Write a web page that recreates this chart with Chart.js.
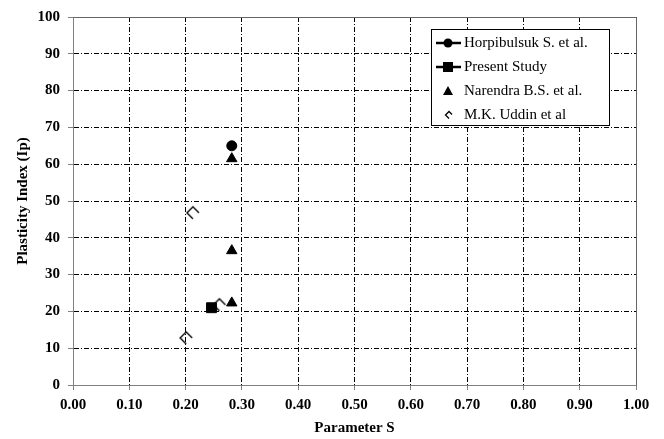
<!DOCTYPE html>
<html>
<head>
<meta charset="utf-8">
<script src="https://cdn.jsdelivr.net/npm/chart.js@4"></script>
<style>
  html, body { margin: 0; padding: 0; background: #fff; }
  #wrap { width: 664px; height: 439px; position: relative; }
</style>
</head>
<body>
<div id="wrap"><canvas id="grafico"></canvas></div>
<script>
// data
const seriesNames = ['Horpibulsuk S. et al.', 'Present Study', 'Narendra B.S. et al.', 'M.K. Uddin et al'];
const horpibulsukS = [0.282];
const horpibulsukIp = [65];
const presentS = [0.246];
const presentIp = [21];
const narendraS = [0.282, 0.282, 0.282];
const narendraIp = [61.5, 36.5, 22.3];
const uddinS = [0.213, 0.26, 0.201];
const uddinIp = [46.8, 21.8, 12.8];
const xTickLabels = ['0.00', '0.10', '0.20', '0.30', '0.40', '0.50', '0.60', '0.70', '0.80', '0.90', '1.00'];
const yTickLabels = ['0', '10', '20', '30', '40', '50', '60', '70', '80', '90', '100'];

const pontos = (xs, ys) => xs.map((x, i) => ({ x: x, y: ys[i] }));

// open diamond marker (Excel style, bottom-right edge hidden)
function diamante(tam) {
    const c = document.createElement('canvas');
    c.width = tam + 4;
    c.height = tam + 4;
    const g = c.getContext('2d');
    const m = c.width / 2, h = tam / 2;
    g.strokeStyle = '#000';
    g.lineWidth = 1.4;
    g.lineJoin = 'miter';
    g.beginPath();
    g.moveTo(m, m + h);
    g.lineTo(m - h, m);
    g.lineTo(m, m - h);
    g.lineTo(m + h, m);
    g.stroke();
    return c;
}
const marcaUddin = diamante(12);

const serif = "'Liberation Serif', 'Times New Roman', serif";

const bordaPlot = {
    id: 'bordaPlot',
    afterDraw(chart) {
        const { ctx, chartArea: a } = chart;
        ctx.save();
        ctx.strokeStyle = '#666';
        ctx.lineWidth = 1;
        ctx.beginPath();
        ctx.moveTo(Math.round(a.left) + 0.5, Math.round(a.top) + 0.5);
        ctx.lineTo(Math.round(a.right) + 0.5, Math.round(a.top) + 0.5);
        ctx.lineTo(Math.round(a.right) + 0.5, Math.round(a.bottom) + 0.5);
        ctx.stroke();
        ctx.restore();
    }
};

// legend box drawn inside the plot, like the original
const legendaDentro = {
    id: 'legendaDentro',
    afterDraw(chart) {
        const ctx = chart.ctx;
        const bx = 431, by = 29, bw = 178, bh = 96;
        ctx.save();
        ctx.fillStyle = '#fff';
        ctx.fillRect(bx, by, bw, bh);
        ctx.strokeStyle = '#000';
        ctx.lineWidth = 1;
        ctx.strokeRect(bx + 0.5, by + 0.5, bw, bh);
        ctx.font = '15px ' + serif;
        ctx.textBaseline = 'middle';
        ctx.fillStyle = '#000';
        chart.data.datasets.forEach((ds, i) => {
            const y = by + 14 + i * 24;
            const mx = 448;
            if (i < 2) {
                ctx.lineWidth = 2.5;
                ctx.beginPath();
                ctx.moveTo(436, y);
                ctx.lineTo(461, y);
                ctx.stroke();
            }
            ctx.lineWidth = 1.3;
            ctx.beginPath();
            if (i === 0) {
                ctx.arc(mx, y, 4.5, 0, Math.PI * 2);
                ctx.fill();
            } else if (i === 1) {
                ctx.fillRect(mx - 5, y - 5, 10, 10);
            } else if (i === 2) {
                ctx.moveTo(mx, y - 5);
                ctx.lineTo(mx + 5, y + 4);
                ctx.lineTo(mx - 5, y + 4);
                ctx.closePath();
                ctx.fill();
            } else {
                ctx.moveTo(mx + 1, y + 3.5);
                ctx.lineTo(mx - 2.5, y);
                ctx.lineTo(mx + 1, y - 3.5);
                ctx.lineTo(mx + 4, y - 0.5);
                ctx.stroke();
            }
            ctx.fillText(ds.label, 464, y);
        });
        ctx.restore();
    }
};

const divGrafico = document.getElementById('grafico').getContext('2d');

const grafico = new Chart(divGrafico, {
    type: 'scatter',
    data: {
        datasets: [
            {
                label: seriesNames[0],
                data: pontos(horpibulsukS, horpibulsukIp),
                pointStyle: 'circle',
                pointRadius: 5,
                backgroundColor: '#000',
                borderColor: '#000',
            },
            {
                label: seriesNames[1],
                data: pontos(presentS, presentIp),
                pointStyle: 'rect',
                pointRadius: 7,
                backgroundColor: '#000',
                borderColor: '#000',
            },
            {
                label: seriesNames[2],
                data: pontos(narendraS, narendraIp),
                pointStyle: 'triangle',
                pointRadius: 6,
                backgroundColor: '#000',
                borderColor: '#000',
            },
            {
                label: seriesNames[3],
                data: pontos(uddinS, uddinIp),
                pointStyle: marcaUddin,
                pointRadius: 6,
            }
        ]
    },
    options: {
        responsive: true,
        maintainAspectRatio: false,
        animation: false,
        layout: {
            padding: { top: 16, right: 28, left: 0, bottom: 0 }
        },
        plugins: {
            legend: { display: false },
            tooltip: { enabled: false }
        },
        scales: {
            x: {
                type: 'linear',
                min: 0,
                max: 1,
                afterFit: (s) => { s.height = 54; },
                afterBuildTicks: (s) => {
                    s.ticks = xTickLabels.map((t) => ({ value: parseFloat(t) }));
                },
                ticks: {
                    callback: (v, i) => xTickLabels[i],
                    color: '#000',
                    padding: 6,
                    maxRotation: 0,
                    font: { family: serif, size: 15, weight: 'bold' }
                },
                grid: {
                    color: '#000',
                    lineWidth: 1,
                    tickColor: '#808080',
                    tickLength: 5,
                    tickBorderDash: []
                },
                border: {
                    color: '#808080',
                    width: 1,
                    dash: [5, 2, 1, 2]
                },
                title: {
                    display: true,
                    text: 'Parameter S',
                    color: '#000',
                    padding: { top: 0, bottom: 2 },
                    font: { family: serif, size: 15, weight: 'bold' }
                }
            },
            y: {
                type: 'linear',
                min: 0,
                max: 100,
                afterFit: (s) => { s.width = 73; },
                ticks: {
                    stepSize: 10,
                    callback: (v) => yTickLabels[Math.round(v / 10)],
                    color: '#000',
                    padding: 8,
                    font: { family: serif, size: 15, weight: 'bold' }
                },
                grid: {
                    color: '#000',
                    lineWidth: 1,
                    tickColor: '#808080',
                    tickLength: 5,
                    tickBorderDash: []
                },
                border: {
                    color: '#808080',
                    width: 1,
                    dash: [5, 2, 1, 2]
                },
                title: {
                    display: true,
                    text: 'Plasticity Index (Ip)',
                    color: '#000',
                    padding: { top: 14, bottom: 0 },
                    font: { family: serif, size: 15, weight: 'bold' }
                }
            }
        }
    },
    plugins: [bordaPlot, legendaDentro]
});
</script>
</body>
</html>
